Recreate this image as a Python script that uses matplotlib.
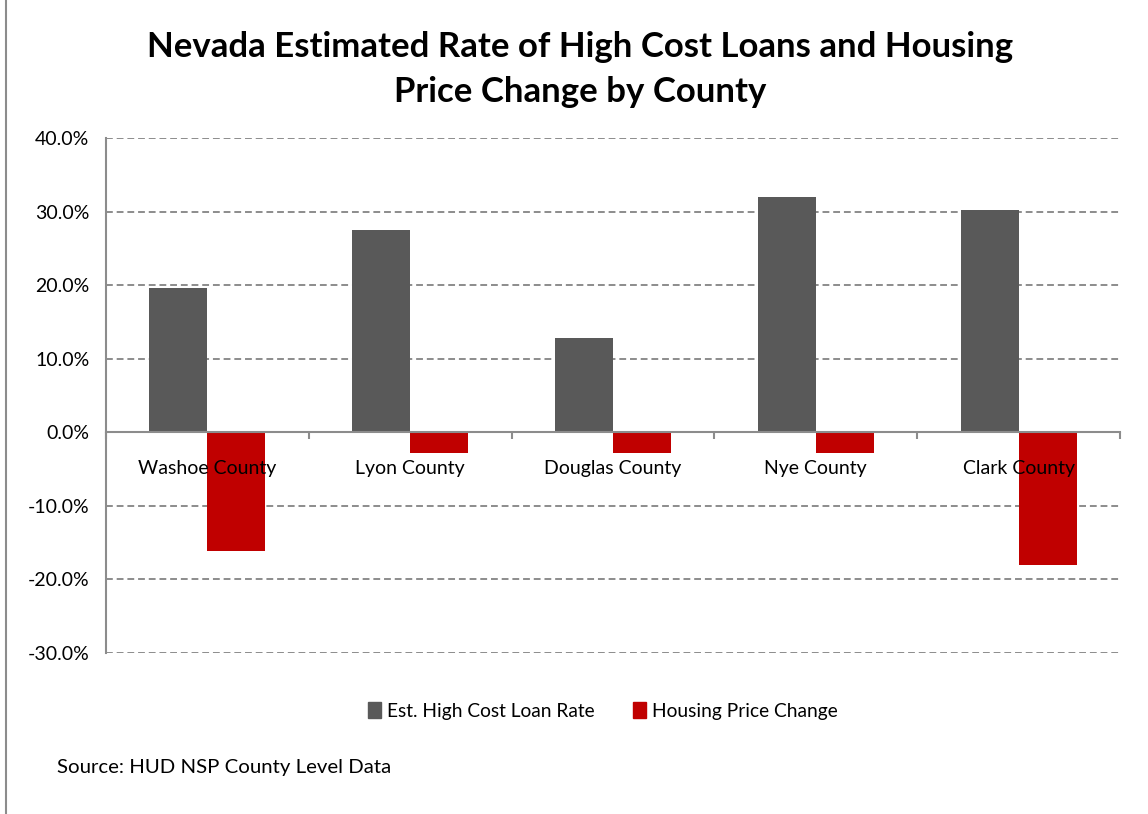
import matplotlib.pyplot as plt
import matplotlib.ticker as ticker
from matplotlib.patches import Patch
from matplotlib.lines import Line2D
import numpy as np

plt.rcParams['font.family'] = ['Lato', 'DejaVu Sans']

# data (percent)
counties = ['Washoe County', 'Lyon County', 'Douglas County', 'Nye County', 'Clark County']
loan_rate = [19.6, 27.5, 12.8, 32.0, 30.2]
price_change = [-16.1, -2.8, -2.8, -2.8, -18.0]
y_ticks = [-30, -20, -10, 0, 10, 20, 30, 40]

GRAY = '#595959'
RED = '#C00000'
LINE = '#8c8c8c'

fig = plt.figure(figsize=(11.48, 8.14), dpi=100)
ax = fig.add_axes([0.0923, 0.1978, 0.8833, 0.6327])

x = np.arange(len(counties))
w = 0.286
ax.bar(x - w / 2, loan_rate, w, color=GRAY, zorder=2, label='Est. High Cost Loan Rate')
ax.bar(x + w / 2, price_change, w, color=RED, zorder=2, label='Housing Price Change')

ax.set_xlim(-0.5, len(counties) - 0.5)
ax.set_ylim(-30, 40)
ax.set_yticks(y_ticks)
ax.yaxis.set_major_formatter(ticker.FuncFormatter(lambda v, p: f'{v:.1f}%'))
ax.tick_params(axis='y', length=0, pad=12, labelsize=14, labelcolor='black')

# dashed grid behind bars, solid zero line
ax.set_axisbelow(True)
ax.grid(True, axis='y', linestyle=(0, (3.5, 2)), color=LINE, linewidth=1.4)
ax.grid(False, axis='x')

for s in ['top', 'right']:
    ax.spines[s].set_visible(False)
ax.spines['left'].set_color(LINE)
ax.spines['left'].set_linewidth(1.5)
ax.spines['bottom'].set_position(('data', 0))
ax.spines['bottom'].set_color(LINE)
ax.spines['bottom'].set_linewidth(1.5)
ax.spines['bottom'].set_zorder(4)

# category boundary ticks, labels at centers
ax.set_xticks(np.arange(len(counties) + 1) - 0.5)
ax.xaxis.set_major_formatter(ticker.NullFormatter())
ax.set_xticks(x, minor=True)
ax.set_xticklabels(counties, minor=True)
ax.tick_params(axis='x', which='major', length=5, width=1.5, color=LINE, direction='out')
ax.tick_params(axis='x', which='minor', length=0, pad=20, labelsize=14)
ax.xaxis.set_zorder(5)
ax.yaxis.set_zorder(0.5)

fig.text(0.505, 0.9146, 'Nevada Estimated Rate of High Cost Loans and Housing\nPrice Change by County',
         ha='center', va='center', fontsize=25, fontweight='bold', linespacing=1.5)

handles = [Patch(color=GRAY), Patch(color=RED)]
fig.legend(handles, ['Est. High Cost Loan Rate', 'Housing Price Change'],
           loc='center', bbox_to_anchor=(0.525, 1 - 711 / 814), ncol=2, frameon=False,
           fontsize=13.8, handlelength=0.7, handleheight=0.85, handletextpad=0.3,
           columnspacing=2.0)

fig.text(57 / 1148, 1 - 768 / 814, 'Source: HUD NSP County Level Data', ha='left', va='center', fontsize=14.7)

# outer chart border on the left
fig.add_artist(Line2D([6 / 1148, 6 / 1148], [0, 1], transform=fig.transFigure, color=LINE, linewidth=1.5))

fig.savefig('out.png', dpi=100)
